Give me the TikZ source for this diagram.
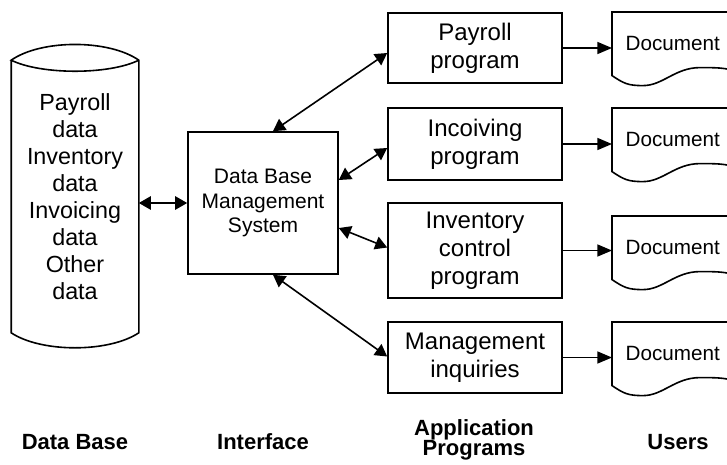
\documentclass[tikz,border=0pt]{standalone}
\usepackage{fontspec}
\setmainfont{Liberation Sans}
\usetikzlibrary{arrows.meta}
\usetikzlibrary{calc}
\usetikzlibrary{positioning}

\tikzset{
    prog/.style={draw, minimum width=130.5pt, align=center, font=\fontsize{18}{21}\selectfont},
    docnode/.style={minimum width=90pt, minimum height=46.5pt, anchor=north west, font=\fontsize{15.5}{18}\selectfont},
    link/.style={{Triangle[length=9pt,width=10pt]}-{Triangle[length=9pt,width=10pt]}},
    feed/.style={-{Triangle[length=11pt,width=9pt]}},
    caption/.style={font=\bfseries\fontsize{16.5}{15.5}\selectfont, align=center},
}

\begin{document}
\begin{tikzpicture}[x=0.75pt, y=-0.75pt, line width=1.2pt]
    \useasboundingbox (0,0) rectangle (727,464);
    \clip (0,0) rectangle (727,464);

    % data base cylinder
    \node[minimum width=94.5pt, minimum height=203.25pt, align=center,
          font=\fontsize{17.5}{20.25}\selectfont] (db) at (75,196.5)
          {Payroll\\data\\Inventory\\data\\Invoicing\\data\\Other\\data};
    \draw (db.north west) -- (db.south west)
        .. controls +(30,20) and +(-30,20) .. (db.south east) -- (db.north east)
        .. controls +(-30,-21) and +(30,-21) .. (db.north west)
        .. controls +(30,14.7) and +(-30,14.7) .. (db.north east);

    \node[draw, minimum width=112.5pt, minimum height=106.5pt, align=center,
          font=\fontsize{15.75}{18.4}\selectfont] (dbms) at (263,203)
          {Data Base\\Management\\System};

    \node[prog, minimum height=52.5pt] (pay) at (475,48) {Payroll\\program};
    \node[prog, minimum height=54pt] (inc) at (475,144) {Incoiving\\program};
    \node[prog, minimum height=71.25pt] (inv) at (475,250.5) {Inventory\\control\\program};
    \node[prog, minimum height=53.25pt] (mgt) at (475,357.5) {Management\\inquiries};

    \draw[link] (db.east |- dbms.west) -- (dbms.west);
    \draw[link] ($(dbms.north)+(10,0)$) -- ($(pay.west)+(0,5)$);
    \draw[link] ($(dbms.east)+(0,-23)$) -- ($(inc.west)+(0,4)$);
    \draw[link] ($(dbms.east)+(0,25)$) -- ($(inv.west)+(0,-3)$);
    \draw[link] ($(dbms.south)+(10,0)$) -- ($(mgt.west)+(0,-1)$);

    % users
    \foreach \p/\t in {pay/12, inc/108, inv/216, mgt/322} {
        \node[docnode] (doc-\p) at (612,\t) {Document};
        \draw (doc-\p.north east) -- (doc-\p.north west) -- (doc-\p.south west)
            .. controls +(12,8) and +(-15,0) .. ($(doc-\p.south west)+(31,10)$)
            .. controls +(20,0) and +(-25,0) .. ($(doc-\p.south west)+(88,-8)$)
            .. controls +(15,0) and +(-10,-3) .. ($(doc-\p.south east)+(0,-5)$);
        \draw[feed] (\p.east) -- (\p.east -| doc-\p.west);
    }

    \node[caption] (cap-db) at (75,442) {Data Base};
    \node[caption] (cap-if) at (263,442) {Interface};
    \node[caption] (cap-app) at (474,440) {Application\\Programs};
    \node[caption] (cap-us) at (678,442) {Users};
\end{tikzpicture}
\end{document}
